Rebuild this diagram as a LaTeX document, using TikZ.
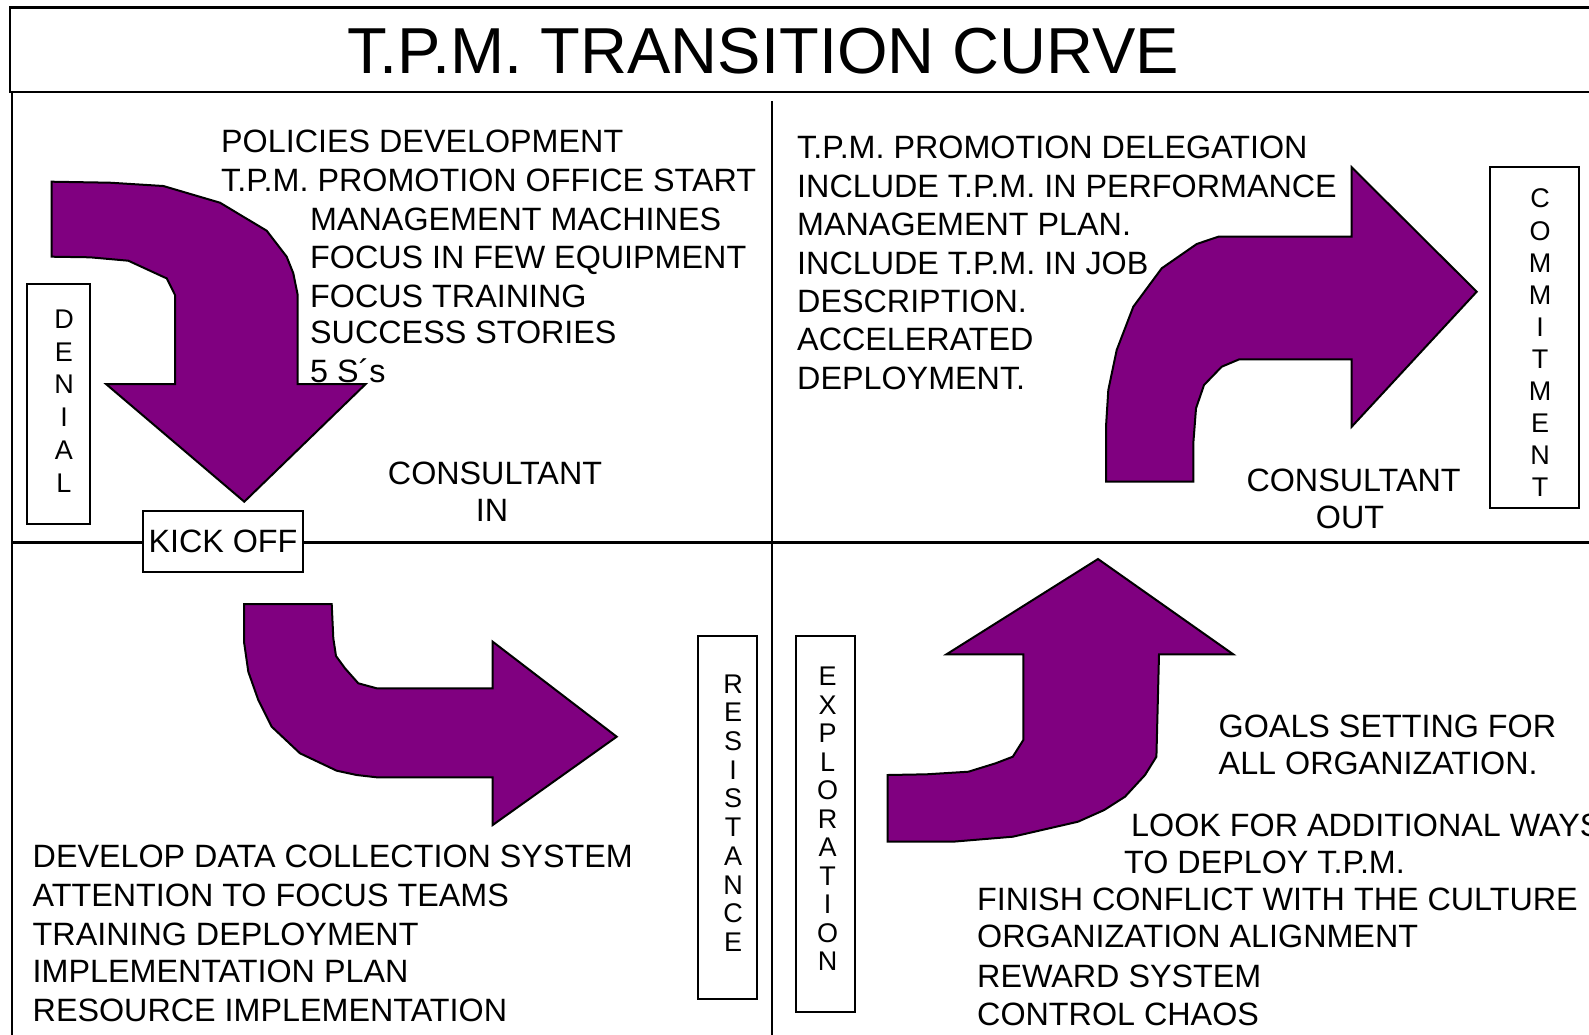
\documentclass[tikz,border=0pt]{standalone}
\usepackage{fontspec}
\setmainfont{Liberation Sans}
\begin{document}
\begin{tikzpicture}[x=1pt,y=-1pt,
  frame/.style={draw=black},
  bigarrow/.style={fill=arrowpurple,draw=black,line width=2pt},
  body/.style={font=\fontsize{32.3}{38}\selectfont,inner sep=0pt,anchor=base west},
  bodyc/.style={font=\fontsize{32.3}{38}\selectfont,inner sep=0pt,anchor=base},
  stagebox/.style={draw=black,line width=2pt,fill=white,inner sep=0pt},
  stageword/.style={font=\fontsize{27}{#1}\selectfont,align=center,inner sep=0pt}
]
\definecolor{arrowpurple}{RGB}{128,0,128}
\useasboundingbox (0,0) rectangle (1589,1034);
\clip (0,0) rectangle (1589,1034);
\fill[white] (0,0) rectangle (1589,1034);

% title bar and quadrant frame
\draw[frame,line width=2.7pt] (10,7.3) rectangle (1620,92);
\node[font=\fontsize{65}{70}\selectfont,inner sep=0pt,anchor=base] (title) at (763,73) {T.P.M. TRANSITION CURVE};
\draw[frame,line width=2.3pt] (12.2,92) -- (12.2,1050);
\draw[frame,line width=2.2pt] (772.3,101) -- (772.3,1050);
\draw[frame,line width=3pt] (12.2,542.7) -- (1620,542.7);

% arrow: denial -> kick off (bending down)
\filldraw[bigarrow] (51.7,181.7) -- (110,182.7) -- (163.3,186) -- (220,202.7) -- (243.3,216.7)
  -- (266.7,230.7) -- (286.7,256.7) -- (293.3,273.3) -- (297.7,295) -- (297.7,384)
  -- (365.7,384) -- (244.3,501.7) -- (106,384) -- (175,384) -- (175,295)
  -- (166.7,278.3) -- (164.3,277.3) -- (128.3,260.7) -- (90,257.3) -- (51.7,256.7) -- cycle;

% arrow: resistance (bending right)
\filldraw[bigarrow] (244,604) -- (331.7,604) -- (333.3,638.3) -- (336,656) -- (345,668.3)
  -- (358.3,683.3) -- (376.7,688.3) -- (492.7,688.3) -- (492.7,641.7) -- (616.7,736.7)
  -- (492.7,825) -- (492.7,777.3) -- (376.7,777.3) -- (356.7,775) -- (336.7,770.7)
  -- (300,753.3) -- (271.7,726.7) -- (258.3,700) -- (248.3,671.7) -- (244,641.7) -- cycle;

% arrow: exploration (bending up)
\filldraw[bigarrow] (1098,559) -- (1233.2,654.3) -- (1159,654.3) -- (1156.4,756.7)
  -- (1145,775) -- (1125,796.7) -- (1104.2,810) -- (1078,821.7) -- (1012.8,836.7)
  -- (952.8,841.7) -- (887.5,841.7) -- (887.5,775) -- (926.7,774.3) -- (968.4,771.7)
  -- (995.6,763.3) -- (1012.8,756.7) -- (1023.3,740) -- (1023.3,654.3) -- (946.5,654.3) -- cycle;

% arrow: commitment (bending right)
\filldraw[bigarrow] (1106,481.7) -- (1193.3,481.7) -- (1193.3,443.3) -- (1196,408.3)
  -- (1204,385) -- (1221.7,366.7) -- (1239.3,359.3) -- (1351.7,359.3) -- (1351.7,426.7)
  -- (1476.7,291.7) -- (1351.7,167.3) -- (1351.7,236.7) -- (1218.3,236.7) -- (1196.7,244)
  -- (1161.7,268.3) -- (1133.3,306.7) -- (1116.7,350) -- (1108.3,390) -- (1106,426.7) -- cycle;

% stage boxes
\node[stagebox,minimum width=62.8pt,minimum height=240pt] (denialbox) at (58.8,404) {};
\node[stageword=32.7pt] (denial) at (64,401) {D\\E\\N\\I\\A\\L};

\node[stagebox,minimum width=160pt,minimum height=61pt,font=\fontsize{32.3}{38}\selectfont] (kickoff) at (223,541.5) {KICK OFF};

\node[stagebox,minimum width=58.6pt,minimum height=363pt] (resistbox) at (727.3,817.5) {};
\node[stageword=28.7pt] (resist) at (733,813) {R\\E\\S\\I\\S\\T\\A\\N\\C\\E};

\node[stagebox,minimum width=59pt,minimum height=376pt] (explorebox) at (825.5,824) {};
\node[stageword=28.5pt] (explore) at (827.5,819) {E\\X\\P\\L\\O\\R\\A\\T\\I\\O\\N};

\node[stagebox,minimum width=88.3pt,minimum height=341.6pt] (commitbox) at (1534.6,337.5) {};
\node[stageword=32.1pt] (commit) at (1540,343) {C\\O\\M\\M\\I\\T\\M\\E\\N\\T};

% kick-off to denial quadrant texts
\node[body] (t1) at (221,152) {POLICIES DEVELOPMENT};
\node[body] (t2) at (221,191.5) {T.P.M. PROMOTION OFFICE START};
\node[body] (t3) at (310,230.2) {MANAGEMENT MACHINES};
\node[body] (t4) at (310,268.2) {FOCUS IN FEW EQUIPMENT};
\node[body] (t5) at (310,307.2) {FOCUS TRAINING};
\node[body] (t6) at (310,343.8) {SUCCESS STORIES};
\node[body] (t7) at (310,382.5) {5 S´s};
\node[bodyc] (cin1) at (495,484) {CONSULTANT};
\node[bodyc] (cin2) at (492,521.4) {IN};

% commitment quadrant texts
\node[body] (u1) at (797,158.6) {T.P.M. PROMOTION DELEGATION};
\node[body] (u2) at (797,197.4) {INCLUDE T.P.M. IN PERFORMANCE};
\node[body] (u3) at (797,235.8) {MANAGEMENT PLAN.};
\node[body] (u4) at (797,274.3) {INCLUDE T.P.M. IN JOB};
\node[body] (u5) at (797,312.7) {DESCRIPTION.};
\node[body] (u6) at (797,350.8) {ACCELERATED};
\node[body] (u7) at (797,389.3) {DEPLOYMENT.};
\node[bodyc] (cout1) at (1353.6,491.7) {CONSULTANT};
\node[bodyc] (cout2) at (1350,528.3) {OUT};

% resistance quadrant texts
\node[body] (r1) at (32.5,867.3) {DEVELOP DATA COLLECTION SYSTEM};
\node[body] (r2) at (32.5,906.5) {ATTENTION TO FOCUS TEAMS};
\node[body] (r3) at (32.5,945) {TRAINING DEPLOYMENT};
\node[body] (r4) at (32.5,982.3) {IMPLEMENTATION PLAN};
\node[body] (r5) at (32.5,1021.5) {RESOURCE IMPLEMENTATION};

% exploration quadrant texts
\node[body] (e1) at (1218.5,737.3) {GOALS SETTING FOR};
\node[body] (e2) at (1218.5,774) {ALL ORGANIZATION.};
\node[body] (e3) at (1131,836) {LOOK FOR ADDITIONAL WAYS};
\node[body] (e4) at (1124,873.3) {TO DEPLOY T.P.M.};
\node[body] (e5) at (977,910) {FINISH CONFLICT WITH THE CULTURE};
\node[body] (e6) at (977,947.3) {ORGANIZATION ALIGNMENT};
\node[body] (e7) at (977,987.3) {REWARD SYSTEM};
\node[body] (e8) at (977,1025) {CONTROL CHAOS};
\end{tikzpicture}
\end{document}
